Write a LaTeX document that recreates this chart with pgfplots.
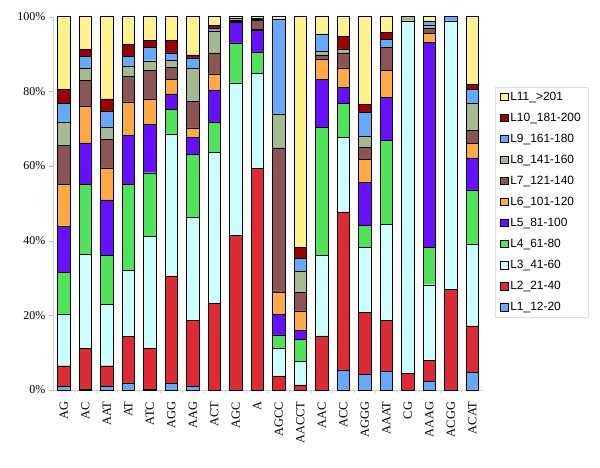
\documentclass[border=0pt]{standalone}
\usepackage{pgfplots}
\pgfplotsset{compat=1.18}
\usepackage{pgfplotstable}
\usepackage{fontspec}
\setmainfont{Liberation Serif}
\newfontfamily\arial{Liberation Sans}

\definecolor{cL1}{HTML}{66AAFF}
\definecolor{cL2}{HTML}{DD2B35}
\definecolor{cL3}{HTML}{CCFFFF}
\definecolor{cL4}{HTML}{4FE35A}
\definecolor{cL5}{HTML}{6610FF}
\definecolor{cL6}{HTML}{FFAA44}
\definecolor{cL7}{HTML}{8C5555}
\definecolor{cL8}{HTML}{A6BA92}
\definecolor{cL9}{HTML}{66AAFF}
\definecolor{cL10}{HTML}{990000}
\definecolor{cL11}{HTML}{FFF28C}

% percentage of each length class per motif
\pgfplotstableread{
x  L1  L2   L3   L4   L5   L6   L7   L8   L9   L10  L11
0  1.0 5.5  13.8 11.2 12.3 11.3 10.4 6.3  4.9  3.8  19.5
1  0.3 10.8 25.3 18.7 11.1 9.8  6.9  3.4  3.1  1.8  8.8
2  1.0 5.5  16.5 13.1 14.8 8.6  7.6  3.3  4.3  3.3  22.0
3  1.9 12.4 17.8 23.0 13.1 9.0  6.8  2.7  2.7  3.1  7.5
4  0.3 10.9 29.9 17.1 12.9 6.9  7.6  2.6  3.6  1.8  6.4
5  1.8 28.8 38.0 6.5  4.2  4.0  3.1  1.9  2.0  3.3  6.4
6  1.0 17.7 27.7 16.7 4.5  2.6  7.2  8.7  2.9  0.8  10.2
7  0.0 23.2 40.4 8.2  8.4  4.5  5.6  5.8  0.7  0.8  2.4
8  0.0 41.4 40.9 10.7 5.5  0.3  0.2  0.6  0.0  0.0  0.4
9  0.0 59.3 25.6 5.7  5.7  0.4  2.3  0.4  0.3  0.0  0.3
10 0.0 3.8  7.4  3.6  5.5  5.8  38.8 9.1  25.4 0.0  0.6
11 0.0 1.4  6.3  5.9  2.3  5.3  4.9  5.8  3.3  3.0  61.8
12 0.0 14.5 21.6 34.3 12.8 5.5  1.1  0.9  4.7  0.0  4.6
13 5.4 42.3 19.9 9.1  4.4  5.2  4.0  1.1  0.0  3.3  5.3
14 4.1 16.7 17.4 6.0  11.5 6.1  3.3  2.9  6.3  2.2  23.5
15 5.0 13.7 25.7 22.4 11.6 7.2  6.2  0.0  2.1  2.0  4.1
16 0.0 4.5  94.4 0.0  0.0  0.0  0.0  1.1  0.0  0.0  0.0
17 2.3 5.7  20.2 10.0 55.0 2.4  1.3  0.9  1.1  0.0  1.1
18 0.0 27.0 71.9 0.0  0.0  0.0  0.0  0.0  1.1  0.0  0.0
19 4.7 12.5 21.8 14.6 8.6  3.8  3.6  7.3  3.6  1.3  18.2
}\data

\begin{document}
\begin{tikzpicture}
\begin{axis}[
    at={(0,0)}, anchor=south west,
    scale only axis,
    width=430bp, height=373.3bp,
    ybar stacked,
    bar width=12.3bp,
    xmin=-0.5, xmax=19.5,
    ymin=0, ymax=100,
    axis x line*=bottom,
    axis y line*=left,
    axis line style={draw=black!18, line width=0.8bp},
    tick align=outside,
    xtick={0,...,19},
    xticklabels={AG,AC,AAT,AT,ATC,AGG,AAG,ACT,AGC,A,AGCC,AACCT,AAC,ACC,AGGG,AAAT,CG,AAAG,ACGG,ACAT},
    x tick label style={rotate=90, anchor=east, font=\fontsize{12.5}{14}\selectfont},
    xticklabel shift=4bp,
    major x tick style={draw=none},
    minor x tick num=1,
    minor x tick style={draw=black!18},
    ytick={0,20,...,100},
    yticklabel={\pgfmathprintnumber{\tick}\%},
    y tick label style={font=\fontsize{12}{14}\selectfont},
    major y tick style={draw=black!25},
    /pgf/number format/assume math mode=true,
    every bar/.append style={draw=black!80, line width=0.6bp},
    reverse legend,
    legend style={
        at={(axis description cs:1.028,0.812)}, anchor=north west,
        draw=black!12,
        font=\arial\fontsize{12}{14}\selectfont,
        row sep=7.2bp,
        inner ysep=3bp,
        inner xsep=5bp,
        cells={anchor=west},
    },
    legend image code/.code={\draw[#1,draw=black,line width=0.6bp] (0bp,-3.6bp) rectangle (7.5bp,3.6bp);},
]
\addplot[fill=cL1] table[x=x,y=L1]{\data};
\addplot[fill=cL2] table[x=x,y=L2]{\data};
\addplot[fill=cL3] table[x=x,y=L3]{\data};
\addplot[fill=cL4] table[x=x,y=L4]{\data};
\addplot[fill=cL5] table[x=x,y=L5]{\data};
\addplot[fill=cL6] table[x=x,y=L6]{\data};
\addplot[fill=cL7] table[x=x,y=L7]{\data};
\addplot[fill=cL8] table[x=x,y=L8]{\data};
\addplot[fill=cL9] table[x=x,y=L9]{\data};
\addplot[fill=cL10] table[x=x,y=L10]{\data};
\addplot[fill=cL11] table[x=x,y=L11]{\data};
\legend{L1\_12-20,L2\_21-40,L3\_41-60,L4\_61-80,L5\_81-100,L6\_101-120,L7\_121-140,L8\_141-160,L9\_161-180,L10\_181-200,L11\_>201}
\end{axis}
\pgfresetboundingbox
\path[use as bounding box] (-53bp,-78bp) rectangle (547bp,390bp);
\end{tikzpicture}
\end{document}
